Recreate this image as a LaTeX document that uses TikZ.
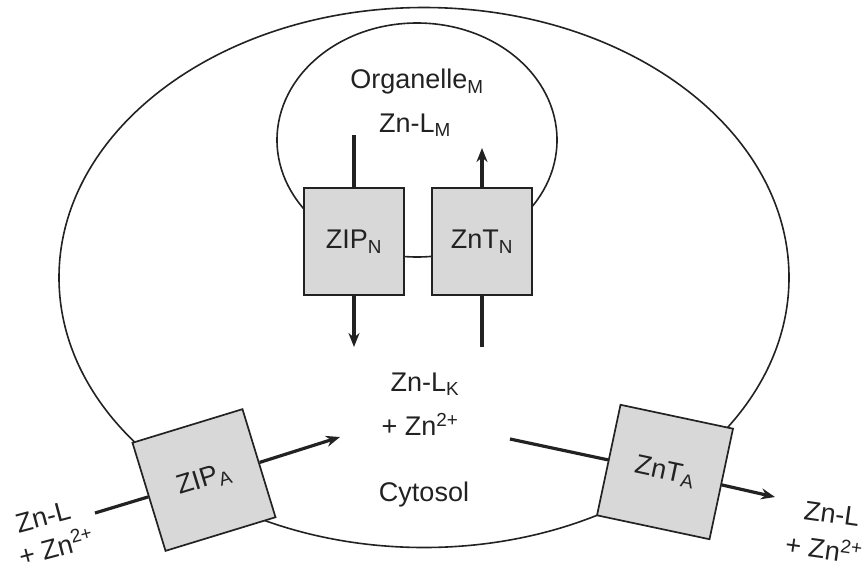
\documentclass[tikz,border=0pt]{standalone}
\usepackage{fontspec}
\setmainfont{Liberation Sans}
\usetikzlibrary{arrows.meta}
\definecolor{boxgray}{HTML}{D8D8D8}
\definecolor{inkgray}{HTML}{222222}

\begin{document}
\begin{tikzpicture}[x=10pt,y=-10pt,
    font=\fontsize{27}{30}\selectfont, text=inkgray,
    membrane/.style={draw=inkgray,line width=1.6pt},
    carrier/.style={draw=inkgray,line width=1.7pt,fill=boxgray,
      minimum width=100pt,minimum height=107pt,inner sep=0pt},
    pump/.style={carrier,minimum width=115pt,minimum height=113pt},
    flow/.style={draw=inkgray,line width=3.2pt},
    flux/.style={flow,-{Stealth[length=14pt,width=11pt]}}]
  \useasboundingbox (0,0) rectangle (86.6,57.1);
  % cell and organelle membranes
  \draw[membrane] (42.4,27.75) ellipse [x radius=36.5,y radius=27];
  \draw[membrane] (41.7,14) ellipse [x radius=14,y radius=11.7];

  \node (orgM) at (41.7,8.2) {Organelle\textsubscript{M}};
  \node (znlM) at (41.5,12.5) {Zn-L\textsubscript{M}};

  % organelle transporters
  \node[carrier] (zipN) at (35.4,24.15) {ZIP\textsubscript{N}};
  \node[carrier] (zntN) at (48.2,24.15) {ZnT\textsubscript{N}};
  \coordinate (zipNin) at (35.4,13.5);
  \coordinate (zipNout) at (35.4,34.7);
  \coordinate (zntNin) at (48.2,34.7);
  \coordinate (zntNout) at (48.2,14.8);
  \draw[flow] (zipNin) -- (zipN);
  \draw[flux] (zipN) -- (zipNout);
  \draw[flow] (zntNin) -- (zntN);
  \draw[flux] (zntN) -- (zntNout);

  \node (znlK) at (42.5,38.4) {Zn-L\textsubscript{K}};
  \node (znK) at (42.0,42.4) {+ Zn\textsuperscript{2+}};
  \node (cyto) at (42.4,49.5) {Cytosol};

  % plasma membrane transporters
  \node[pump,rotate=17] (zipA) at (20.4,48.0) {ZIP\textsubscript{A}};
  \node[pump,rotate=-12] (zntA) at (66.5,47.2) {ZnT\textsubscript{A}};
  \coordinate (zipAin) at (9.5,51.3);
  \coordinate (zipAout) at (34.0,43.7);
  \coordinate (zntAin) at (51.0,43.9);
  \coordinate (zntAout) at (77.5,49.7);
  \draw[flow] (zipAin) -- (zipA);
  \draw[flux] (zipA) -- (zipAout);
  \draw[flow] (zntAin) -- (zntA);
  \draw[flux] (zntA) -- (zntAout);

  \node[rotate=15] (znlOut) at (4.3,51.7) {Zn-L};
  \node[rotate=15] (znOut) at (5.6,54.6) {+ Zn\textsuperscript{2+}};
  \node[rotate=-8] (znlIn) at (83.2,51.4) {Zn-L};
  \node[rotate=-8] (znIn) at (82.4,54.8) {+ Zn\textsuperscript{2+}};
\end{tikzpicture}
\end{document}
